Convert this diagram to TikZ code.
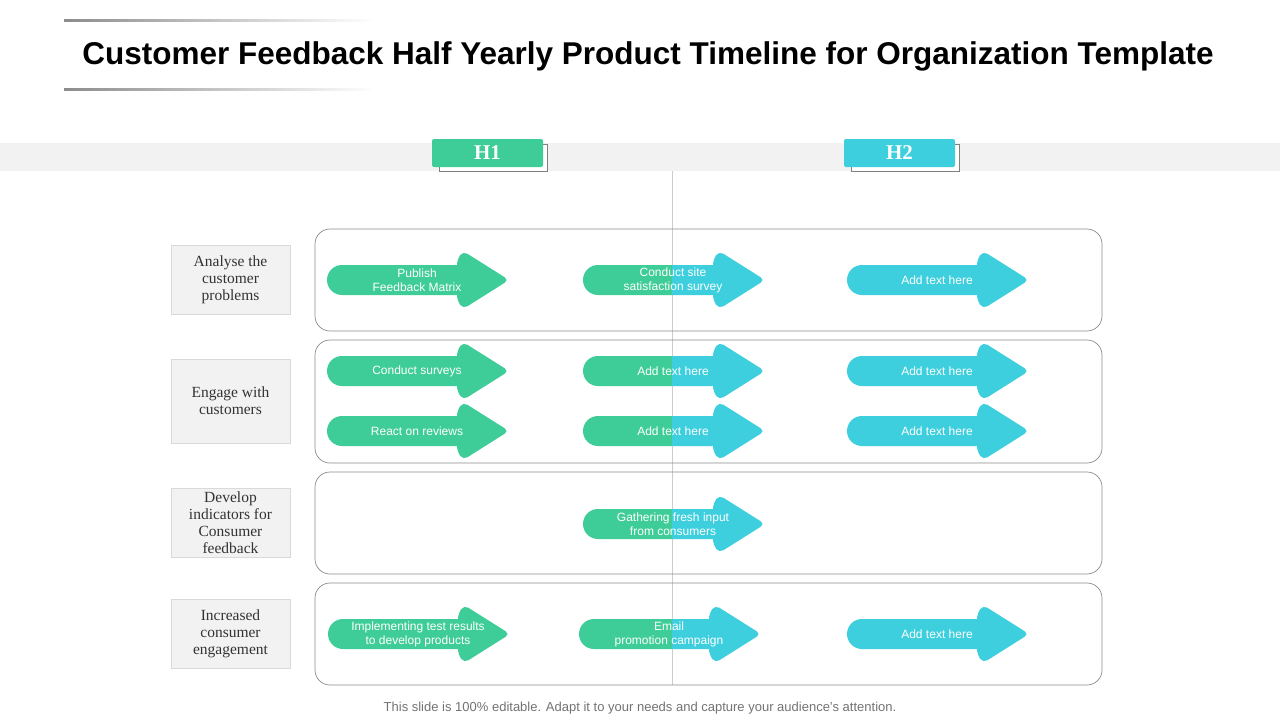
\documentclass[tikz,border=0pt]{standalone}
\usepackage{fontspec}
\setmainfont{Liberation Serif}
\setsansfont{Liberation Sans}
\begin{document}
\begin{tikzpicture}[x=1pt,y=-1pt]
\definecolor{gr}{HTML}{3ECD98}
\definecolor{cy}{HTML}{3DCFDE}
\definecolor{bd}{HTML}{8C8C8C}
\tikzset{
  rowbox/.style={draw=bd,line width=0.7pt,rounded corners=15pt},
  lbl/.style={fill=black!5,draw=black!15,minimum width=119pt,align=center,font=\fontsize{15.5}{17}\selectfont,text=black!80},
  atext/.style={text=white,align=center,font=\sffamily\fontsize{12}{14}\selectfont},
  tab/.style={minimum width=111pt,minimum height=28pt,inner sep=0pt,font=\bfseries\fontsize{21}{22}\selectfont,text=white}
}
\useasboundingbox (0,0) rectangle (1280,720);
\fill[white] (0,0) rectangle (1280,720);
% title
\node (title) at (648,56) {\sffamily\bfseries\fontsize{31.5}{36}\selectfont Customer Feedback Half Yearly Product Timeline for Organization Template};
\shade[left color=black!45,right color=white] (64,19) rectangle (375,21);
\shade[left color=black!45,right color=white] (64,88) rectangle (375,90);
% header band
\fill[black!5] (0,143) rectangle (1280,171);
\draw[black!20,line width=0.6pt] (672,171) -- (672,685);
\draw[black!50,fill=white] (439,144) rectangle (547,171);
\draw[black!50,fill=white] (851,144) rectangle (959,171);
\node[tab,fill=gr,rounded corners=2pt] (h1) at (487.5,153) {H1};
\node[tab,fill=cy,rounded corners=2pt] (h2) at (899.5,153) {H2};
% row boxes
\draw[rowbox] (315,229) rectangle (1102,331);
\draw[rowbox] (315,340) rectangle (1102,463);
\draw[rowbox] (315,472) rectangle (1102,574);
\draw[rowbox] (315,583) rectangle (1102,685);
% labels
\node[lbl,minimum height=69pt] (l1) at (230.5,279.5) {Analyse the\\customer\\problems};
\node[lbl,minimum height=84pt] (l2) at (230.5,401) {Engage with\\customers};
\node[lbl,minimum height=69pt] (l3) at (230.5,522.5) {Develop\\indicators for\\Consumer\\feedback};
\node[lbl,minimum height=69pt] (l4) at (230.5,633.5) {Increased\\consumer\\engagement};
\newcommand{\arrshape}[3]{%
  \fill[#3,rounded corners=15pt] (#1,#2-15) rectangle (#1+150,#2+15);
  \fill[#3,rounded corners=5pt] (#1+136,#2-29) -- (#1+182,#2) -- (#1+136,#2+29) -- (#1+130,#2+20) -- (#1+130,#2-20) -- cycle;}
\newcommand{\arr}[5]{% x y mode label name
  \ifx g#3\arrshape{#1}{#2}{gr}\fi
  \ifx c#3\arrshape{#1}{#2}{cy}\fi
  \ifx s#3
    \begin{scope}\clip (0,0) rectangle (672,720);\arrshape{#1}{#2}{gr}\end{scope}
    \begin{scope}\clip (672,0) rectangle (1280,720);\arrshape{#1}{#2}{cy}\end{scope}
  \fi
  \node[atext] (#5) at (#1+90,#2) {#4};}
\arr{327}{280}{g}{Publish\\Feedback Matrix}{a1}
\arr{583}{280}{s}{Conduct site\\satisfaction survey}{a2}
\arr{847}{280}{c}{Add text here}{a3}
\arr{327}{371}{g}{Conduct surveys}{b1}
\arr{583}{371}{s}{Add text here}{b2}
\arr{847}{371}{c}{Add text here}{b3}
\arr{327}{431}{g}{React on reviews}{c1}
\arr{583}{431}{s}{Add text here}{c2}
\arr{847}{431}{c}{Add text here}{c3}
\arr{583}{524}{s}{Gathering fresh input\\from consumers}{d1}
\arr{328}{634}{g}{Implementing test results\\to develop products}{e1}
\arr{579}{634}{s}{Email\\promotion campaign}{e2}
\arr{847}{634}{c}{Add text here}{e3}
\node[text=black!55,font=\sffamily\fontsize{13}{15}\selectfont] (foot) at (640,708) {This slide is 100\% editable. Adapt it to your needs and capture your audience's attention.};
\end{tikzpicture}
\end{document}
